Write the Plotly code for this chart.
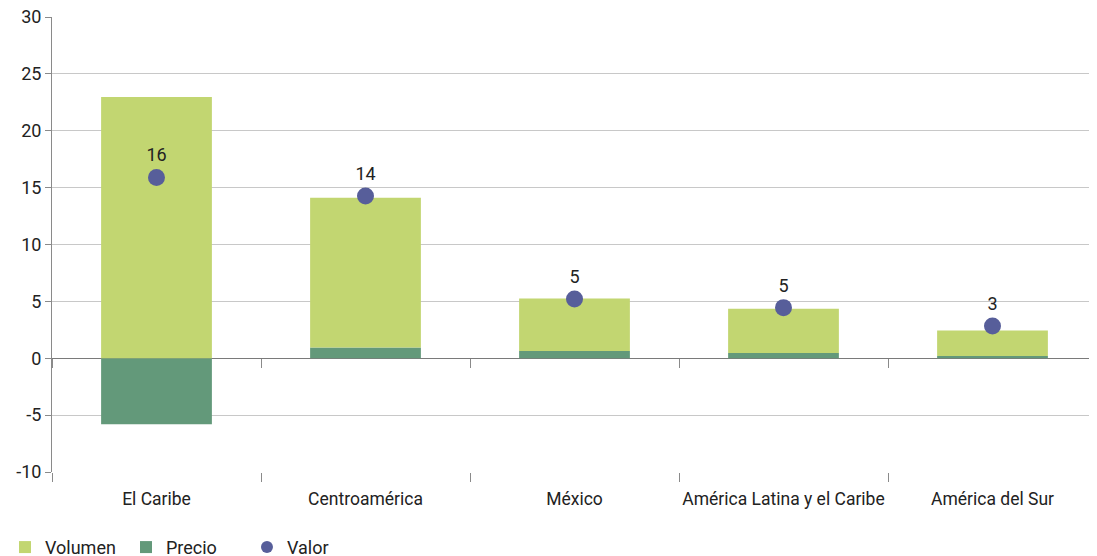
import plotly.graph_objects as go

# datos
regiones = ["El Caribe", "Centroamérica", "México", "América Latina y el Caribe", "América del Sur"]
volumen = [22.96, 13.16, 4.61, 3.88, 2.23]
precio = [-5.8, 0.94, 0.64, 0.47, 0.2]
valor = [15.9, 14.27, 5.2, 4.45, 2.84]
valor_txt = ["16", "14", "5", "5", "3"]
y_ticks = [-10, -5, 0, 5, 10, 15, 20, 25, 30]
y_ticktext = ["-10", "-5", "0", "5", "10", "15", "20", "25", "30"]

FONT = "Roboto, Noto Sans, sans-serif"
TXT = "#222222"

fig = go.Figure()

# precio en primer lugar -> en la base de la pila
fig.add_trace(go.Bar(x=regiones, y=precio, name="Precio", legendrank=2,
                     marker=dict(color="#63997A", line=dict(width=0))))
fig.add_trace(go.Bar(x=regiones, y=volumen, name="Volumen", legendrank=1,
                     marker=dict(color="#C2D671", line=dict(width=0))))
fig.add_trace(go.Scatter(x=regiones, y=valor, name="Valor", mode="markers+text", legendrank=3,
                         text=valor_txt, textposition="top center",
                         textfont=dict(size=18, color=TXT, family=FONT),
                         marker=dict(color="#575E9A", size=17)))
# trace invisible pour l'axe des ticks au zero
fig.add_trace(go.Scatter(x=regiones, y=[0] * len(regiones), xaxis="x2",
                         mode="markers", marker=dict(opacity=0),
                         showlegend=False, hoverinfo="skip"))

# la page html a une marge de 8px autour du graphique
fig.update_layout(
    width=1089, height=548,
    barmode="relative", bargap=0.47,
    plot_bgcolor="white", paper_bgcolor="white",
    margin=dict(l=44, r=0, t=9, b=84, autoexpand=False),
    font=dict(family=FONT, size=17, color=TXT),
    showlegend=True,
    legend=dict(orientation="h", x=-0.045, xanchor="left", y=-0.125, yanchor="top",
                font=dict(size=18, color=TXT), entrywidth=76, entrywidthmode="pixels",
                itemsizing="constant"),
    yaxis=dict(range=[-10, 30], tickvals=y_ticks, ticktext=y_ticktext,
               showgrid=True, gridcolor="#C8C8C8", gridwidth=1,
               zeroline=True, zerolinecolor="#7A7A7A", zerolinewidth=1,
               showline=True, linecolor="#8A8A8A", linewidth=1,
               ticks="outside", ticklen=6, tickcolor="#8A8A8A", automargin=False,
               ticklabeloverflow="allow", tickfont=dict(size=18, color=TXT)),
    xaxis=dict(type="category", ticks="outside", tickson="boundaries", ticklen=9,
               tickcolor="#8A8A8A", showline=False, showgrid=False, automargin=False,
               tickangle=0, ticklabelstandoff=14, ticklabeloverflow="allow",
               tickfont=dict(size=17.5, color=TXT)),
    xaxis2=dict(type="category", overlaying="x", matches="x", anchor="free", position=0.25,
                side="bottom", ticks="outside", tickson="boundaries", ticklen=9,
                tickcolor="#8A8A8A", showticklabels=False, showline=False, showgrid=False),
)

fig.write_html("out.html")
